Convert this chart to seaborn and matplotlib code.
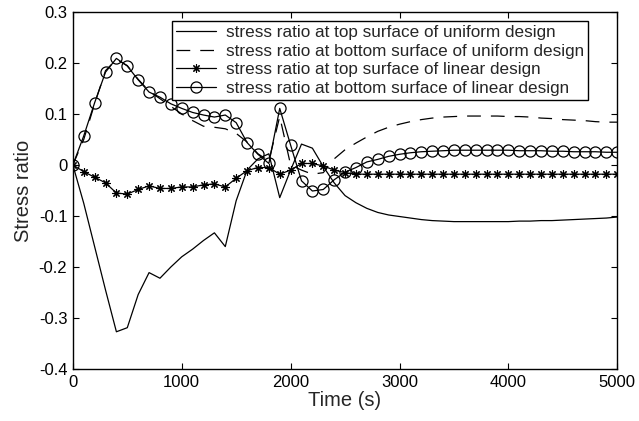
import numpy as np
import pandas as pd
import matplotlib
matplotlib.use("Agg")
import matplotlib.pyplot as plt
import seaborn as sns

# Time axis (s), sampled every 100 s
time_s = np.arange(0, 5001, 100)

# Stress ratio at top surface, uniform design
uniform_top = [
    0.000, -0.075, -0.160, -0.245, -0.327, -0.319, -0.254, -0.211, -0.222, -0.200,
    -0.180, -0.165, -0.148, -0.133, -0.160, -0.070, -0.010, 0.012, 0.022, -0.064,
    -0.010, 0.041, 0.033, -0.003, -0.035, -0.060, -0.074, -0.085, -0.093, -0.098,
    -0.101, -0.104, -0.107, -0.109, -0.110, -0.111, -0.111, -0.111, -0.111, -0.111,
    -0.111, -0.110, -0.110, -0.109, -0.109, -0.108, -0.107, -0.106, -0.105, -0.104,
    -0.102,
]

# Stress ratio at bottom surface, uniform design
uniform_bottom = [
    0.000, 0.050, 0.120, 0.185, 0.207, 0.195, 0.168, 0.145, 0.130, 0.115,
    0.100, 0.087, 0.076, 0.074, 0.071, 0.062, 0.045, 0.022, 0.008, 0.095,
    0.000, -0.010, -0.018, -0.015, 0.012, 0.030, 0.043, 0.055, 0.066, 0.074,
    0.080, 0.085, 0.089, 0.092, 0.094, 0.095, 0.096, 0.096, 0.096, 0.096,
    0.095, 0.095, 0.094, 0.092, 0.091, 0.089, 0.088, 0.087, 0.085, 0.084,
    0.084,
]

# Stress ratio at top surface, linear design
linear_top = [
    0.000, -0.013, -0.024, -0.035, -0.055, -0.057, -0.048, -0.041, -0.046, -0.046,
    -0.043, -0.043, -0.039, -0.037, -0.043, -0.026, -0.011, -0.005, -0.005, -0.018,
    -0.010, 0.003, 0.003, -0.002, -0.010, -0.015, -0.018, -0.018, -0.018, -0.018,
    -0.018, -0.018, -0.018, -0.018, -0.018, -0.018, -0.018, -0.018, -0.018, -0.018,
    -0.018, -0.018, -0.018, -0.018, -0.018, -0.018, -0.018, -0.018, -0.018, -0.018,
    -0.018,
]

# Stress ratio at bottom surface, linear design
linear_bottom = [
    0.000, 0.057, 0.122, 0.182, 0.209, 0.194, 0.167, 0.143, 0.133, 0.120,
    0.111, 0.103, 0.098, 0.094, 0.098, 0.083, 0.044, 0.021, 0.003, 0.111,
    0.039, -0.031, -0.051, -0.048, -0.029, -0.014, -0.005, 0.006, 0.011, 0.017,
    0.021, 0.024, 0.026, 0.027, 0.028, 0.029, 0.029, 0.029, 0.029, 0.029,
    0.029, 0.028, 0.028, 0.028, 0.027, 0.027, 0.026, 0.026, 0.026, 0.025,
    0.025,
]

labels = [
    "stress ratio at top surface of uniform design",
    "stress ratio at bottom surface of uniform design",
    "stress ratio at top surface of linear design",
    "stress ratio at bottom surface of linear design",
]

sns.set_style("ticks")
plt.rcParams["font.family"] = ["Liberation Sans", "DejaVu Sans"]
plt.rcParams["xtick.direction"] = "in"
plt.rcParams["ytick.direction"] = "in"

fig = plt.figure(figsize=(6.39, 4.21), dpi=100)
ax = fig.add_axes([0.114, 0.1235, 0.852, 0.848])

df = pd.DataFrame({"t": time_s, "ut": uniform_top, "ub": uniform_bottom,
                   "lt": linear_top, "lb": linear_bottom})

sns.lineplot(data=df, x="t", y="ut", ax=ax, color="black", lw=0.9, label=labels[0])
sns.lineplot(data=df, x="t", y="ub", ax=ax, color="black", lw=0.9, label=labels[1],
             dashes=False, linestyle=(0, (11, 8)))
sns.lineplot(data=df, x="t", y="lt", ax=ax, color="black", lw=0.9, label=labels[2],
             marker=(8, 2, 0), markersize=6, markeredgewidth=0.8,
             markeredgecolor="black")
sns.lineplot(data=df, x="t", y="lb", ax=ax, color="black", lw=0.9, label=labels[3],
             marker="o", markersize=8, markerfacecolor="none",
             markeredgecolor="black", markeredgewidth=0.9)

ax.set_xlim(0, 5000)
ax.set_ylim(-0.4, 0.3)
ax.set_xticks(np.arange(0, 5001, 1000))
ax.set_yticks(np.round(np.arange(-0.4, 0.31, 0.1), 1))
ax.set_yticklabels(["-0.4", "-0.3", "-0.2", "-0.1", "0", "0.1", "0.2", "0.3"])
ax.tick_params(axis="both", which="both", direction="in", top=True, right=True,
               labelsize=12, length=4, width=0.8, colors="black", pad=4)
for s in ax.spines.values():
    s.set_visible(True)
    s.set_linewidth(1.0)
    s.set_color("black")

ax.set_xlabel("Time (s)", fontsize=14.5, labelpad=1)
ax.set_ylabel("Stress ratio", fontsize=14.5, labelpad=4)

leg = ax.legend(loc="upper right", bbox_to_anchor=(0.9467, 0.9748), borderaxespad=0,
                fontsize=12.3, frameon=True, fancybox=False, handlelength=2.3,
                handletextpad=0.6, labelspacing=0.2, borderpad=0.25)
leg.get_frame().set_edgecolor("black")
leg.get_frame().set_linewidth(1.0)
leg.get_frame().set_alpha(1)

fig.savefig("out.png", dpi=100)
